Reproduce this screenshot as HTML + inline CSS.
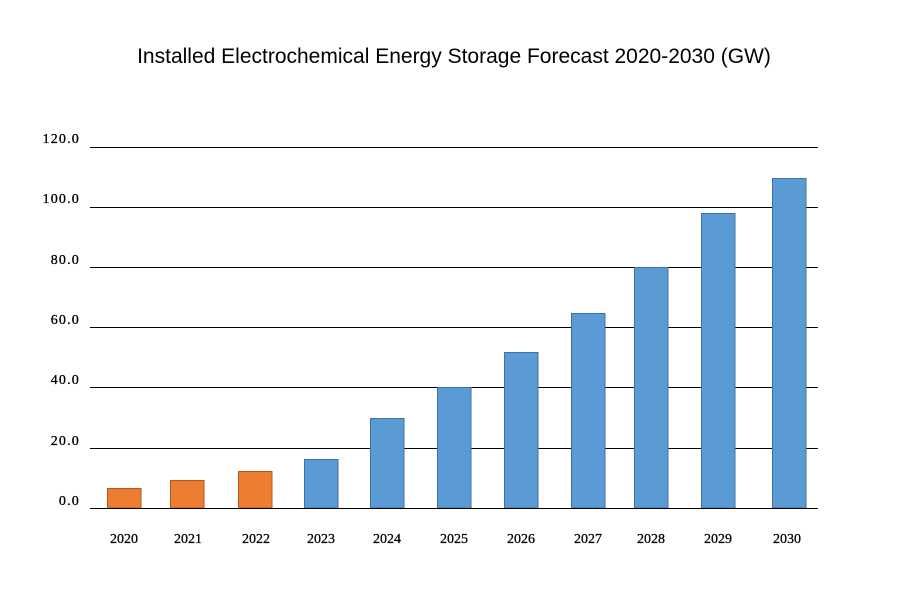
<!DOCTYPE html>
<html><head><meta charset="utf-8"><style>
html,body{margin:0;padding:0;background:#fff;}
svg{display:block;}
</style></head><body>
<svg width="914" height="606" xmlns="http://www.w3.org/2000/svg">
<rect width="914" height="606" fill="#fff"/>
<text x="454" y="63" text-anchor="middle" font-family="Liberation Sans, sans-serif" font-size="21" fill="#000">Installed Electrochemical Energy Storage Forecast 2020-2030 (GW)</text>
<g stroke="#000" stroke-width="1">
<line x1="90" x2="818" y1="147.5" y2="147.5"/>
<line x1="90" x2="818" y1="207.5" y2="207.5"/>
<line x1="90" x2="818" y1="267.5" y2="267.5"/>
<line x1="90" x2="818" y1="327.5" y2="327.5"/>
<line x1="90" x2="818" y1="387.5" y2="387.5"/>
<line x1="90" x2="818" y1="448.5" y2="448.5"/>
</g>
<g font-family="Liberation Serif, serif" font-size="14" fill="#000" text-anchor="end" letter-spacing="1.2" stroke="#000" stroke-width="0.3">
<text x="80" y="143">120.0</text>
<text x="80" y="203">100.0</text>
<text x="80" y="264">80.0</text>
<text x="80" y="324">60.0</text>
<text x="80" y="384">40.0</text>
<text x="80" y="445">20.0</text>
<text x="80" y="505">0.0</text>
</g>
<g stroke-width="1">
<rect x="107.5" y="488.5" width="33.5" height="19.5" fill="#ed7d31" stroke="#ae5a21"/>
<rect x="170.5" y="480.5" width="33.5" height="27.5" fill="#ed7d31" stroke="#ae5a21"/>
<rect x="238.5" y="471.5" width="33.5" height="36.5" fill="#ed7d31" stroke="#ae5a21"/>
<rect x="304.5" y="459.5" width="33.5" height="48.5" fill="#5b9bd5" stroke="#41719c"/>
<rect x="370.5" y="418.5" width="33.5" height="89.5" fill="#5b9bd5" stroke="#41719c"/>
<rect x="437.5" y="387.5" width="33.5" height="120.5" fill="#5b9bd5" stroke="#41719c"/>
<rect x="504.5" y="352.5" width="33.5" height="155.5" fill="#5b9bd5" stroke="#41719c"/>
<rect x="571.5" y="313.5" width="33.5" height="194.5" fill="#5b9bd5" stroke="#41719c"/>
<rect x="634.5" y="267.5" width="33.5" height="240.5" fill="#5b9bd5" stroke="#41719c"/>
<rect x="701.5" y="213.5" width="33.5" height="294.5" fill="#5b9bd5" stroke="#41719c"/>
<rect x="772.5" y="178.5" width="33.5" height="329.5" fill="#5b9bd5" stroke="#41719c"/>
</g>
<line x1="90" x2="818" y1="508.5" y2="508.5" stroke="#000"/>
<g font-family="Liberation Serif, serif" font-size="14" fill="#000" text-anchor="middle" stroke="#000" stroke-width="0.3">
<text x="124" y="543">2020</text>
<text x="188" y="543">2021</text>
<text x="256" y="543">2022</text>
<text x="321" y="543">2023</text>
<text x="387" y="543">2024</text>
<text x="454" y="543">2025</text>
<text x="521" y="543">2026</text>
<text x="588" y="543">2027</text>
<text x="651" y="543">2028</text>
<text x="718" y="543">2029</text>
<text x="787" y="543">2030</text>
</g>
</svg>
</body></html>
